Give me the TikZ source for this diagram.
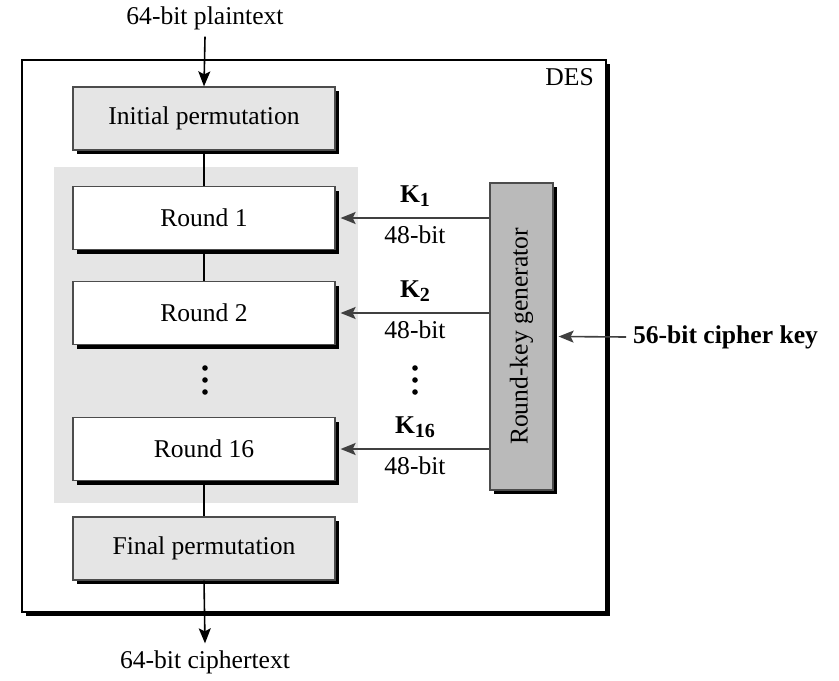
\documentclass[tikz,border=0pt]{standalone}
\usepackage{fontspec}
\setmainfont{Liberation Serif}
\usetikzlibrary{arrows.meta,shadows}

\tikzset{
  shadowed/.style={drop shadow={shadow xshift=2pt, shadow yshift=-2pt, fill=black, opacity=1}},
  box/.style={draw=black!70, line width=0.6pt, minimum width=131pt, minimum height=31.5pt, shadowed},
  permbox/.style={box, fill=black!10},
  roundbox/.style={box, fill=white},
  keygen/.style={draw=black!70, line width=0.6pt, fill=black!27, minimum width=31.5pt, minimum height=153.5pt, shadowed},
  arr/.style={-{Stealth[length=7.5pt,width=6pt,inset=1.5pt]}, line width=0.8pt},
  keyarr/.style={arr, draw=black!75},
  keylbl/.style={above, yshift=2pt},
}
\newcommand{\keyname}[1]{\textbf{K}\raisebox{-0.35ex}{\fontsize{10}{12}\selectfont\bfseries #1}}

\begin{document}
\begin{tikzpicture}[x=0.5pt, y=-0.5pt, font=\fontsize{12.8}{15}\selectfont]
		\useasboundingbox (0,0) rectangle (839,680);
		% outer DES frame and grey round panel
		\node[draw, line width=0.9pt, fill=white, minimum width=292pt, minimum height=276pt, shadowed] (des) at (314,336) {};
		\node[anchor=north east] (deslbl) at ([xshift=-3pt,yshift=-1pt]des.north east) {DES};
		\node[fill=black!10, minimum width=152pt, minimum height=168pt] (panel) at (206,335) {};
		% boxes
		\node[permbox] (ip) at (204,118.5) {Initial permutation};
		\node[roundbox] (r1) at (204,218) {Round 1};
		\node[roundbox] (r2) at (204,313) {Round 2};
		\node[roundbox] (r16) at (204,449) {Round 16};
		\node[permbox] (fp) at (204,548.5) {Final permutation};
		\node[keygen] (rkg) at (521.5,336.5) {\rotatebox{90}{Round-key generator}};
		% input and output
		\node (plain) at (205,18) {64-bit plaintext};
		\node (cipher) at (205,662) {64-bit ciphertext};
		\node[anchor=west, font=\fontsize{12.8}{15}\selectfont\bfseries] (key) at (626,337) {56-bit cipher key};
		\draw[arr] (plain.south) -- (ip.north);
		\draw[line width=0.8pt] (ip.south) -- (r1.north);
		\draw[line width=0.8pt] (r1.south) -- (r2.north);
		\draw[line width=0.8pt] (r16.south) -- (fp.north);
		\draw[arr] (fp.south) -- (cipher.north);
		\draw[keyarr] (key.west) -- ([xshift=2.5pt]rkg.east);
		% round keys
		\draw[keyarr] (rkg.west |- r1) -- node[keylbl] {\keyname{1}} node[below] {48-bit} ([xshift=2.5pt]r1.east);
		\draw[keyarr] (rkg.west |- r2) -- node[keylbl] {\keyname{2}} node[below] {48-bit} ([xshift=2.5pt]r2.east);
		\draw[keyarr] (rkg.west |- r16) -- node[keylbl] {\keyname{16}} node[below] {48-bit} ([xshift=2.5pt]r16.east);
		% dots
		\foreach \x in {205,415}
			\foreach \y in {368,380,392}
				\fill (\x,\y) circle (1.4pt);
		\end{tikzpicture}
\end{document}
